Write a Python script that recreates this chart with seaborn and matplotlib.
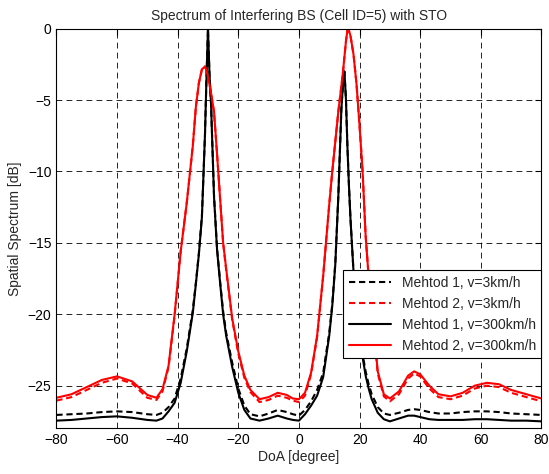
import matplotlib
matplotlib.use("Agg")
import matplotlib.pyplot as plt
import numpy as np
import pandas as pd
import seaborn as sns

# DoA grid (degree), denser near the two peaks
doa = [-80, -75, -70, -65, -60, -55, -50, -47, -45, -43, -41, -39, -37, -35, -34, -33, -32, -31,
       -30.5, -30, -29.5, -29, -28, -27, -26, -25, -24, -22, -20, -18, -16, -13, -10, -7, -4, -2,
       0, 2, 4, 6, 8, 10, 11, 12, 13, 14, 14.5, 15, 15.5, 16, 16.5, 17, 18, 19, 20, 21, 22, 23,
       24, 26, 28, 30, 33, 36, 38, 40, 43, 46, 50, 54, 58, 62, 66, 70, 75, 80]

# Method 1, v=3km/h (black dashed)
m1_3 = [-27.05, -27.0, -26.95, -26.85, -26.8, -26.85, -27.0, -27.05, -26.9, -26.5, -25.9, -24.5, -22.4, -19.7, -17.8, -15.7, -13.1, -7.5,
        -3.5, 0.0, -3.2, -5.2, -11.7, -15.4, -17.7, -19.8, -21.3, -23.4, -25.2, -26.4, -27.0, -27.15, -26.95, -26.7, -26.85, -27.0,
        -27.1, -26.7, -26.1, -25.3, -24.1, -21.3, -19.3, -16.4, -11.7, -5.6, -4.0, -3.0, -4.9, -8.3, -11.0, -13.3, -17.0, -19.3, -21.2, -22.8, -24.0, -24.9,
        -25.6, -26.5, -26.95, -27.05, -26.9, -26.7, -26.65, -26.7, -26.85, -26.95, -26.95, -26.85, -26.8, -26.8, -26.85, -26.95, -27.0, -27.05]

# Method 2, v=3km/h (red dashed)
m2_3 = [-26.05, -25.8, -25.3, -24.8, -24.5, -24.85, -25.85, -26.0, -25.4, -23.7, -20.1, -15.6, -12.2, -8.2, -5.5, -3.8, -2.85, -2.65,
        -2.9, -3.4, -3.9, -4.5, -5.9, -8.8, -11.9, -15.0, -16.9, -20.4, -22.75, -24.45, -25.45, -26.15, -26.0, -25.7, -25.85, -26.05,
        -26.15, -25.7, -24.2, -21.6, -17.3, -12.3, -10.0, -7.9, -5.8, -4.0, -3.1, -2.0, -0.9, -0.1, -0.15, -0.5, -1.8, -3.9, -6.8, -10.0, -14.5, -17.4,
        -19.6, -24.15, -25.75, -26.1, -25.6, -24.5, -24.15, -24.35, -25.2, -25.8, -25.95, -25.7, -25.2, -25.0, -25.1, -25.5, -25.8, -26.1]

# Method 1, v=300km/h (black solid)
m1_300 = [-27.45, -27.4, -27.3, -27.2, -27.15, -27.25, -27.4, -27.45, -27.3, -26.8, -26.2, -24.8, -22.6, -19.9, -17.9, -15.8, -13.2, -7.5,
          -3.5, 0.0, -3.2, -5.2, -11.8, -15.5, -17.8, -20.0, -21.5, -23.7, -25.5, -26.7, -27.3, -27.45, -27.3, -27.1, -27.3, -27.4,
          -27.45, -27.0, -26.4, -25.7, -24.4, -21.5, -19.4, -16.5, -11.7, -5.6, -4.0, -3.0, -4.9, -8.3, -11.0, -13.3, -17.0, -19.4, -21.4, -23.0, -24.3, -25.2,
          -25.95, -26.9, -27.35, -27.5, -27.3, -27.1, -27.1, -27.2, -27.35, -27.4, -27.4, -27.4, -27.35, -27.35, -27.4, -27.45, -27.45, -27.5]

# Method 2, v=300km/h (red solid)
m2_300 = [-25.85, -25.6, -25.1, -24.6, -24.35, -24.7, -25.65, -25.85, -25.25, -23.6, -20.0, -15.6, -12.2, -8.2, -5.5, -3.8, -2.85, -2.65,
          -2.9, -3.4, -3.9, -4.5, -5.8, -8.8, -11.9, -15.0, -16.8, -20.3, -22.6, -24.3, -25.3, -25.95, -25.8, -25.5, -25.65, -25.9,
          -25.95, -25.5, -24.1, -21.5, -17.3, -12.3, -10.0, -7.9, -5.8, -4.0, -3.1, -2.0, -0.9, -0.1, -0.15, -0.5, -1.8, -3.9, -6.8, -10.0, -14.5, -17.4,
          -19.5, -24.0, -25.6, -25.9, -25.4, -24.3, -24.0, -24.2, -25.0, -25.6, -25.75, -25.5, -25.0, -24.8, -24.9, -25.3, -25.6, -25.9]

labels = ["Mehtod 1, v=3km/h", "Mehtod 2, v=3km/h", "Mehtod 1, v=300km/h", "Mehtod 2, v=300km/h"]

sns.set_style("white")
plt.rcParams['font.family'] = ['Liberation Sans', 'DejaVu Sans']
plt.rcParams['xtick.direction'] = 'in'
plt.rcParams['ytick.direction'] = 'in'

fig = plt.figure(figsize=(5.49, 4.74), dpi=100)
ax = fig.add_axes([0.1027, 0.096, 0.8836, 0.8435])

# Visualize each series
dash = (3, 1.8)
sns.lineplot(x=doa, y=m1_3, color="black", lw=1.5, label=labels[0], ax=ax)
sns.lineplot(x=doa, y=m2_3, color="red", lw=1.5, label=labels[1], ax=ax)
sns.lineplot(x=doa, y=m1_300, color="black", lw=1.5, label=labels[2], ax=ax)
sns.lineplot(x=doa, y=m2_300, color="red", lw=1.5, label=labels[3], ax=ax)
ax.lines[0].set_dashes(dash)
ax.lines[1].set_dashes(dash)

ax.set_xlim(-80, 80)
ax.set_ylim(-28, 0)
ax.set_xticks(np.arange(-80, 81, 20))
ax.set_yticks(np.arange(-25, 1, 5))
ax.grid(True, color="black", linestyle=(0, (7, 5)), linewidth=0.6)
ax.tick_params(labelsize=10, top=True, right=True, length=4, width=0.8, colors="black")
for s in ax.spines.values():
    s.set_color("black")
    s.set_linewidth(0.8)

ax.set_title("Spectrum of Interfering BS (Cell ID=5) with STO", fontsize=10, pad=6)
ax.set_xlabel("DoA [degree]", fontsize=10, labelpad=2)
ax.set_ylabel("Spatial Spectrum [dB]", fontsize=10, labelpad=4)

leg = ax.legend(loc="upper right", bbox_to_anchor=(1.0, 0.396), fontsize=10, handlelength=3,
                fancybox=False, framealpha=1, edgecolor="black", borderaxespad=0, labelspacing=0.5)
leg.get_frame().set_linewidth(0.8)
leg.legend_handles[0].set_dashes(dash)
leg.legend_handles[1].set_dashes(dash)

fig.savefig("out.png", dpi=100)
